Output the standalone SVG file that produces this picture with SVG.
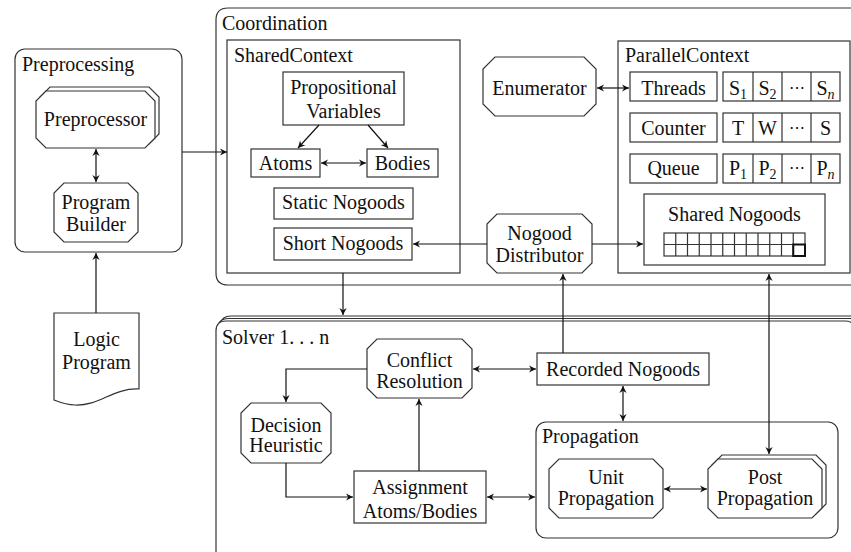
<svg xmlns="http://www.w3.org/2000/svg" width="851" height="552" viewBox="0 0 851 552" font-family="'Liberation Serif', Tinos, 'Times New Roman', 'DejaVu Serif', serif">
<style>
text{font-family:'Liberation Serif',Tinos,'Times New Roman','DejaVu Serif',serif;font-size:20px;fill:#111}
.m{text-anchor:middle}
.box{fill:#fff;stroke:#333;stroke-width:1.2}
.cont{fill:none;stroke:#333;stroke-width:1.2}
.conn line,.conn polyline{fill:none;stroke:#111;stroke-width:1.2}
.sub{font-size:14px}
.dots{font-family:'DejaVu Serif','Liberation Serif',serif;font-size:16px}
</style>
<defs>
<marker id="ah" viewBox="-8 -5 10 10" refX="0" refY="0" markerWidth="10" markerHeight="10" markerUnits="userSpaceOnUse" orient="auto-start-reverse">
<path d="M0,0 L-7,-3.6 L-4.8,0 L-7,3.6 Z" fill="#111"/>
</marker>
</defs>

<g id="coordination">
<path class="cont" d="M860,8 H228 Q216,8 216,20 V273 Q216,285 228,285 H860"/>
<text x="222" y="30">Coordination</text>
</g>

<g id="sharedcontext">
<rect class="cont" x="227" y="40" width="233" height="233"/>
<text x="234" y="62">SharedContext</text>
</g>
<g id="propvars">
<rect class="box" x="283" y="72" width="121" height="53"/>
<text class="m" x="343.5" y="94">Propositional</text>
<text class="m" x="343.5" y="118">Variables</text>
</g>
<g id="atoms"><rect class="box" x="251" y="149" width="69" height="28"/><text class="m" x="285.5" y="170">Atoms</text></g>
<g id="bodies"><rect class="box" x="367" y="149" width="71" height="28"/><text class="m" x="402.5" y="170">Bodies</text></g>
<g id="staticnogoods"><rect class="box" x="274" y="188" width="139" height="31"/><text class="m" x="343.5" y="209">Static Nogoods</text></g>
<g id="shortnogoods"><rect class="box" x="274" y="228" width="138" height="32"/><text class="m" x="343" y="250">Short Nogoods</text></g>

<g id="enumerator">
<polygon class="box" points="495,57 584,57 596,69 596,104 584,116 495,116 483,104 483,69"/>
<text class="m" x="539.5" y="95">Enumerator</text>
</g>

<g id="parallelcontext">
<rect class="cont" x="618" y="41" width="232" height="232"/>
<text x="625" y="62">ParallelContext</text>
</g>
<g id="threads">
<rect class="box" x="630" y="72" width="87" height="29"/><text class="m" x="673.5" y="95">Threads</text>
<rect class="box" x="723" y="72" width="117" height="29"/>
<path class="cont" d="M753,72 V101 M782,72 V101 M811,72 V101"/>
<text class="m" x="738" y="95">S<tspan class="sub" dy="4">1</tspan></text>
<text class="m" x="767.5" y="95">S<tspan class="sub" dy="4">2</tspan></text>
<text class="m dots" x="796.5" y="93">⋯</text>
<text class="m" x="825.5" y="95">S<tspan class="sub" dy="4" font-style="italic">n</tspan></text>
</g>
<g id="counter">
<rect class="box" x="630" y="113" width="87" height="29"/><text class="m" x="673.5" y="135">Counter</text>
<rect class="box" x="723" y="113" width="117" height="29"/>
<path class="cont" d="M753,113 V142 M782,113 V142 M811,113 V142"/>
<text class="m" x="738" y="135">T</text>
<text class="m" x="767.5" y="135">W</text>
<text class="m dots" x="796.5" y="133">⋯</text>
<text class="m" x="825.5" y="135">S</text>
</g>
<g id="queue">
<rect class="box" x="630" y="154" width="87" height="29"/><text class="m" x="673.5" y="175">Queue</text>
<rect class="box" x="723" y="154" width="117" height="29"/>
<path class="cont" d="M753,154 V183 M782,154 V183 M811,154 V183"/>
<text class="m" x="738" y="175">P<tspan class="sub" dy="4">1</tspan></text>
<text class="m" x="767.5" y="175">P<tspan class="sub" dy="4">2</tspan></text>
<text class="m dots" x="796.5" y="173">⋯</text>
<text class="m" x="825.5" y="175">P<tspan class="sub" dy="4" font-style="italic">n</tspan></text>
</g>
<g id="sharednogoods">
<rect class="box" x="644" y="194" width="181" height="71"/>
<text class="m" x="734.5" y="221">Shared Nogoods</text>
<rect class="cont" x="664" y="233" width="141" height="23"/>
<path class="cont" d="M664,244.5 H805 M675.75,233 V256 M687.5,233 V256 M699.25,233 V256 M711,233 V256 M722.75,233 V256 M734.5,233 V256 M746.25,233 V256 M758,233 V256 M769.75,233 V256 M781.5,233 V256 M793.25,233 V256"/>
<rect x="793.25" y="244.5" width="11.75" height="11.5" fill="none" stroke="#111" stroke-width="2"/>
</g>
<g id="nogooddistributor">
<polygon class="box" points="497,214 582,214 592,224 592,263 582,273 497,273 487,263 487,224"/>
<text class="m" x="539.5" y="240">Nogood</text>
<text class="m" x="539.5" y="262">Distributor</text>
</g>

<g id="preprocessing">
<rect class="cont" x="15" y="49" width="167" height="203" rx="10"/>
<text x="22" y="71">Preprocessing</text>
</g>
<g id="preprocessor">
<polygon class="box" points="50,87 149,87 159,97 159,134 149,144 50,144 40,134 40,97"/>
<polygon class="box" points="46,91 145,91 155,101 155,138 145,148 46,148 36,138 36,101"/>
<text class="m" x="95.5" y="126">Preprocessor</text>
</g>
<g id="programbuilder">
<polygon class="box" points="64,183 128,183 138,193 138,232 128,242 64,242 54,232 54,193"/>
<text class="m" x="96" y="209">Program</text>
<text class="m" x="96" y="231">Builder</text>
</g>
<g id="logicprogram">
<path class="box" d="M54,313 H139 V389 C112,388 100,406 75,405 C66,405 59,402 54,400 Z"/>
<text class="m" x="96.5" y="346">Logic</text>
<text class="m" x="96.5" y="369">Program</text>
</g>

<g id="solver">
<path class="cont" d="M860,316 H231 Q222,316 220,324"/>
<path class="cont" d="M860,318.5 H228.5 Q219.5,318.5 217.5,326"/>
<path class="box" d="M216,560 V331 Q216,321 226,321 H845 Q855,321 855,331 V560"/>
<text x="222" y="344">Solver 1. . . n</text>
</g>
<g id="conflictresolution">
<polygon class="box" points="377,339 462,339 472,349 472,388 462,398 377,398 367,388 367,349"/>
<text class="m" x="419.5" y="367">Conflict</text>
<text class="m" x="419.5" y="388">Resolution</text>
</g>
<g id="recordednogoods"><rect class="box" x="537" y="353" width="172" height="32"/><text class="m" x="623" y="376">Recorded Nogoods</text></g>
<g id="decisionheuristic">
<polygon class="box" points="251,403 321,403 331,413 331,453 321,463 251,463 241,453 241,413"/>
<text class="m" x="286" y="432">Decision</text>
<text class="m" x="286" y="452">Heuristic</text>
</g>
<g id="assignment">
<rect class="box" x="354" y="471" width="132" height="52"/>
<text class="m" x="420" y="494">Assignment</text>
<text class="m" x="420" y="518">Atoms/Bodies</text>
</g>
<g id="propagation">
<rect class="cont" x="536" y="422" width="302" height="116" rx="10"/>
<text x="542" y="443">Propagation</text>
</g>
<g id="unitpropagation">
<polygon class="box" points="559,459 653,459 663,469 663,508 653,518 559,518 549,508 549,469"/>
<text class="m" x="606" y="484">Unit</text>
<text class="m" x="606" y="505">Propagation</text>
</g>
<g id="postpropagation">
<polygon class="box" points="722,455 816,455 826,465 826,504 816,514 722,514 712,504 712,465"/>
<polygon class="box" points="718,459 812,459 822,469 822,508 812,518 718,518 708,508 708,469"/>
<text class="m" x="765" y="484">Post</text>
<text class="m" x="765" y="505">Propagation</text>
</g>

<g id="connectors" class="conn">
<line x1="96" y1="149" x2="96" y2="182" marker-start="url(#ah)" marker-end="url(#ah)"/>
<line x1="96" y1="313" x2="96" y2="253" marker-end="url(#ah)"/>
<line x1="182" y1="152" x2="227" y2="152" marker-end="url(#ah)"/>
<line x1="319" y1="125" x2="298" y2="148" marker-end="url(#ah)"/>
<line x1="368" y1="125" x2="388" y2="148" marker-end="url(#ah)"/>
<line x1="321" y1="163" x2="366" y2="163" marker-start="url(#ah)" marker-end="url(#ah)"/>
<line x1="487" y1="244" x2="413" y2="244" marker-end="url(#ah)"/>
<line x1="592" y1="244" x2="643" y2="244" marker-end="url(#ah)"/>
<line x1="597" y1="88" x2="629" y2="88" marker-start="url(#ah)" marker-end="url(#ah)"/>
<line x1="343" y1="273" x2="343" y2="315" marker-end="url(#ah)"/>
<line x1="563" y1="353" x2="563" y2="274" marker-end="url(#ah)"/>
<line x1="769" y1="274" x2="769" y2="454" marker-start="url(#ah)" marker-end="url(#ah)"/>
<line x1="473" y1="369" x2="536" y2="369" marker-start="url(#ah)" marker-end="url(#ah)"/>
<line x1="623" y1="386" x2="623" y2="421" marker-start="url(#ah)" marker-end="url(#ah)"/>
<polyline points="367,369 286,369 286,402" marker-end="url(#ah)"/>
<polyline points="286,463 286,497 353,497" marker-end="url(#ah)"/>
<line x1="419" y1="471" x2="419" y2="399" marker-end="url(#ah)"/>
<line x1="487" y1="497" x2="535" y2="497" marker-start="url(#ah)" marker-end="url(#ah)"/>
<line x1="664" y1="489" x2="707" y2="489" marker-start="url(#ah)" marker-end="url(#ah)"/>
</g>
</svg>
